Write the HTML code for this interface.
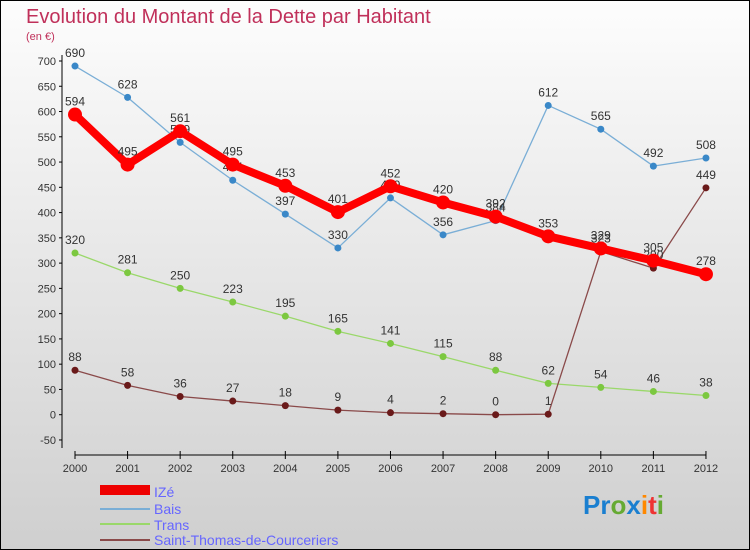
<!DOCTYPE html>
<html><head><meta charset="utf-8"><style>
body{margin:0}
#c{width:750px;height:550px;position:relative;overflow:hidden;font-family:"Liberation Sans",sans-serif}
</style></head><body>
<div id="c">
<svg width="750" height="550" id="svg" xmlns="http://www.w3.org/2000/svg">
<defs><linearGradient id="bg" x1="0" y1="0" x2="0" y2="1"><stop offset="0" stop-color="#fdfdfd"/><stop offset="1" stop-color="#cfcfcf"/></linearGradient></defs>
<rect x="0.5" y="0.5" width="749" height="549" fill="url(#bg)" stroke="#000"/>
<text x="26" y="23" font-size="20" fill="#c0305a">Evolution du Montant de la Dette par Habitant</text>
<text x="26" y="40" font-size="11" fill="#c0305a">(en €)</text>
<g id="axes"></g><g id="series"></g>
<g>
<rect x="100" y="485" width="50" height="10" fill="#e00"/>
<text x="154" y="497" font-size="14" fill="#66f">IZé</text>
<rect x="100" y="508" width="50" height="2" fill="#7aaed6"/>
<text x="154" y="514" font-size="14" fill="#66f">Bais</text>
<rect x="100" y="523" width="50" height="2" fill="#9ad86a"/>
<text x="154" y="530" font-size="14" fill="#66f">Trans</text>
<rect x="100" y="539" width="50" height="2" fill="#8a4a4a"/>
<text x="154" y="545" font-size="14" fill="#66f">Saint-Thomas-de-Courceriers</text>
</g>
<text x="583" y="514" font-size="26" font-weight="bold"><tspan fill="#1a7fd0">Pr</tspan><tspan fill="#6a3">o</tspan><tspan fill="#1a7fd0">x</tspan><tspan fill="#f80">i</tspan><tspan fill="#e33">t</tspan><tspan fill="#6a3">i</tspan></text>
</svg></div>
<script>
const years=[2000,2001,2002,2003,2004,2005,2006,2007,2008,2009,2010,2011,2012];
const ize=[594,495,561,495,453,401,452,420,392,353,329,305,278];
const bais=[690,628,539,464,397,330,429,356,384,612,565,492,508];
const trans=[320,281,250,223,195,165,141,115,88,62,54,46,38];
const stc=[88,58,36,27,18,9,4,2,0,1,323,290,449];
const yTicks=[-50,0,50,100,150,200,250,300,350,400,450,500,550,600,650,700];
const NS="http://www.w3.org/2000/svg";
function X(i){return 75+i*52.58;}
function Y(v){return 414.7-v*0.5053;}
function mk(tag,attrs,parent){const e=document.createElementNS(NS,tag);for(const k in attrs)e.setAttribute(k,attrs[k]);parent.appendChild(e);return e;}
const ax=document.getElementById('axes');
let yl=mk('line',{x1:62,y1:55,x2:62,y2:448,stroke:'#000'},ax);


yTicks.forEach(v=>{mk('line',{x1:59,y1:Y(v),x2:62,y2:Y(v),stroke:'#000'},ax);
 const t=mk('text',{x:56,y:Y(v)+4,'text-anchor':'end','font-size':11,fill:'#333'},ax);t.textContent=v;
 
 });
let xl=mk('line',{x1:75,y1:455,x2:706,y2:455,stroke:'#000'},ax);


years.forEach((y,i)=>{mk('line',{x1:X(i),y1:451,x2:X(i),y2:459,stroke:'#000'},ax);
 const t=mk('text',{x:X(i),y:472,'text-anchor':'middle','font-size':11,fill:'#333'},ax);t.textContent=y;
 
 });
const sg=document.getElementById('series');
function draw(data,name,color,w,r,dot){
 const g=mk('g',{},sg);
 
 
 mk('polyline',{points:data.map((v,i)=>X(i)+','+Y(v)).join(' '),fill:'none',stroke:color,'stroke-width':w,'stroke-linejoin':'round'},g);
 data.forEach((v,i)=>{const c=mk('circle',{cx:X(i),cy:Y(v),r:r,fill:dot},g);
  
  
  const t=mk('text',{x:X(i),y:Y(v)-9,'text-anchor':'middle','font-size':12,fill:'#333'},g);t.textContent=v;
  
  });
}
draw(trans,'trans','#9ad86a',1.3,3.5,'#7cc840');
draw(stc,'stc','#8a4a4a',1.3,3.5,'#6a1a1a');
draw(bais,'bais','#7aaed6',1.3,3.5,'#3a88c8');
draw(ize,'ize','#f00',8,7,'#f00');
</script>
</body></html>
